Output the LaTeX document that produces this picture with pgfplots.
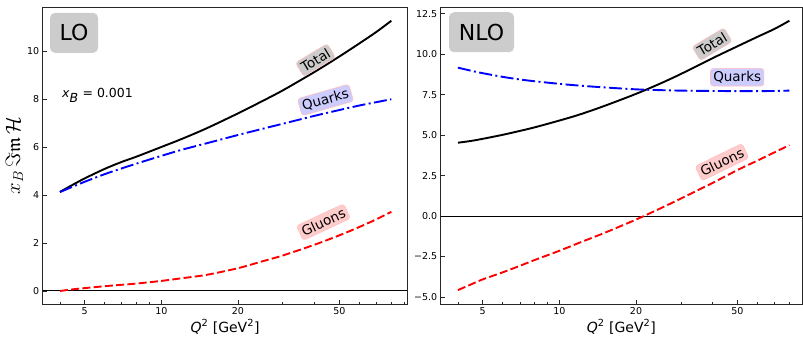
\documentclass[border=0pt]{standalone}
\usepackage{fontspec}
\setmainfont{DejaVu Sans}
\usepackage{amssymb}
\usepackage{pgfplots}
\usepackage{pgfplotstable}
\pgfplotsset{compat=1.18}
\definecolor{boxgray}{RGB}{204,204,204}
\definecolor{qbox}{RGB}{204,204,255}
\definecolor{gbox}{RGB}{255,204,204}
\definecolor{edgepink}{RGB}{255,190,190}

\pgfplotstableread{
Q tot q g
4 4.13 4.12 0.00
4.5 4.43 4.35 0.07
5 4.69 4.55 0.12
6 5.09 4.87 0.20
7 5.38 5.11 0.26
8 5.60 5.31 0.31
10 6.00 5.63 0.42
12 6.33 5.88 0.53
15 6.77 6.15 0.67
20 7.40 6.50 0.95
25 7.92 6.76 1.24
30 8.36 6.97 1.48
40 9.13 7.30 1.93
50 9.77 7.54 2.32
60 10.32 7.73 2.67
70 10.80 7.87 2.99
80 11.26 7.99 3.30
}\tabLO

\pgfplotstableread{
Q tot q g
4 4.53 9.17 -4.58
4.5 4.64 8.98 -4.23
5 4.77 8.83 -3.92
6 5.02 8.60 -3.48
7 5.26 8.44 -3.08
8 5.48 8.33 -2.72
10 5.90 8.17 -2.15
12 6.27 8.06 -1.65
15 6.80 7.95 -1.05
20 7.55 7.83 -0.22
25 8.20 7.78 0.48
30 8.78 7.75 1.08
40 9.76 7.73 2.05
50 10.49 7.72 2.84
60 11.08 7.72 3.43
70 11.57 7.73 3.94
80 12.07 7.75 4.38
}\tabNLO

\tikzset{
 tot/.style={black, line width=1.9pt, line cap=butt},
 qk/.style={blue, line width=1.9pt, dash pattern=on 13pt off 3.4pt on 2pt off 3.4pt},
 gl/.style={red, line width=1.9pt, dash pattern=on 8pt off 3.3pt},
 lab/.style={font=\fontsize{13.5}{15}\selectfont, rounded corners=3pt, draw=edgepink, line width=0.6pt, inner sep=2.8pt},
 bigbox/.style={font=\fontsize{22}{24}\selectfont, fill=boxgray, rounded corners=5pt, inner sep=0pt},
}

\begin{document}
\begin{tikzpicture}
\useasboundingbox (0,0) rectangle (803pt,338pt);
\begin{semilogxaxis}[scale only axis, height=297pt, xmin=3.423,
  axis line style={line width=0.8pt, black!85},
  tick align=inside, xtick pos=bottom, ytick pos=left,
  xtick={5,10,20,50}, xticklabels={5,10,20,50},
  minor xtick={4,6,7,8,9,30,40,60,70,80,90},
  major tick length=4.5pt, minor tick length=2.5pt,
  tick style={line width=0.7pt, black!85},
  ticklabel style={font=\fontsize{9.5}{10}\selectfont},
  xlabel={\textit{Q}\textsuperscript{2} [GeV\textsuperscript{2}]},
  xlabel style={font=\fontsize{14}{16}\selectfont, yshift=2pt},
  clip=false,
  at={(42.7pt,34pt)}, anchor=south west, width=364.7pt,
  xmax=92.5, ymin=-0.542, ymax=11.833,
  ytick={0,2,4,6,8,10}, yticklabels={0,2,4,6,8,10},
  ylabel={$x_B\,\Im\mathfrak{m}\,\mathcal{H}$},
  ylabel style={font=\fontsize{19.5}{20}\selectfont, yshift=-3pt}]
\draw[black, line width=1pt] (axis cs:3.423,0) -- (axis cs:92.5,0);
\addplot[tot, smooth] table[x=Q, y=tot] {\tabLO};
\addplot[qk, smooth] table[x=Q, y=q] {\tabLO};
\addplot[gl, smooth] table[x=Q, y=g] {\tabLO};
\node[lab, fill=boxgray, rotate=31] at (axis cs:40.3,9.62) {Total};
\node[lab, fill=qbox, rotate=16] at (axis cs:44.1,7.96) {Quarks};
\node[lab, fill=gbox, rotate=25] at (axis cs:43.3,2.87) {Gluons};
\node[bigbox, minimum width=48pt, minimum height=40pt] at (rel axis cs:0.086,0.913) {LO};
\node[anchor=west, font=\fontsize{12.5}{14}\selectfont] at (axis cs:3.95,8.17) {\textit{x}$_{\textit{B}}$ = 0.001};
\end{semilogxaxis}
\begin{semilogxaxis}[scale only axis, height=297pt, xmin=3.423,
  axis line style={line width=0.8pt, black!85},
  tick align=inside, xtick pos=bottom, ytick pos=left,
  xtick={5,10,20,50}, xticklabels={5,10,20,50},
  minor xtick={4,6,7,8,9,30,40,60,70,80,90},
  major tick length=4.5pt, minor tick length=2.5pt,
  tick style={line width=0.7pt, black!85},
  ticklabel style={font=\fontsize{9.5}{10}\selectfont},
  xlabel={\textit{Q}\textsuperscript{2} [GeV\textsuperscript{2}]},
  xlabel style={font=\fontsize{14}{16}\selectfont, yshift=2pt},
  clip=false,
  at={(440.7pt,34pt)}, anchor=south west, width=361.3pt,
  xmax=89.65, ymin=-5.44, ymax=12.92,
  ytick={-5,-2.5,0,2.5,5,7.5,10,12.5},
  yticklabels={−5.0,−2.5,0.0,2.5,5.0,7.5,10.0,12.5}]
\draw[black, line width=1pt] (axis cs:3.423,0) -- (axis cs:89.65,0);
\addplot[tot, smooth] table[x=Q, y=tot] {\tabNLO};
\addplot[qk, smooth] table[x=Q, y=q] {\tabNLO};
\addplot[gl, smooth] table[x=Q, y=g] {\tabNLO};
\node[lab, fill=boxgray, rotate=31] at (axis cs:39.8,10.62) {Total};
\node[lab, fill=qbox] at (axis cs:49.9,8.58) {Quarks};
\node[lab, fill=gbox, rotate=26] at (axis cs:43.5,3.33) {Gluons};
\node[bigbox, minimum width=65pt, minimum height=40pt] at (rel axis cs:0.113,0.915) {NLO};
\end{semilogxaxis}
\end{tikzpicture}
\end{document}
